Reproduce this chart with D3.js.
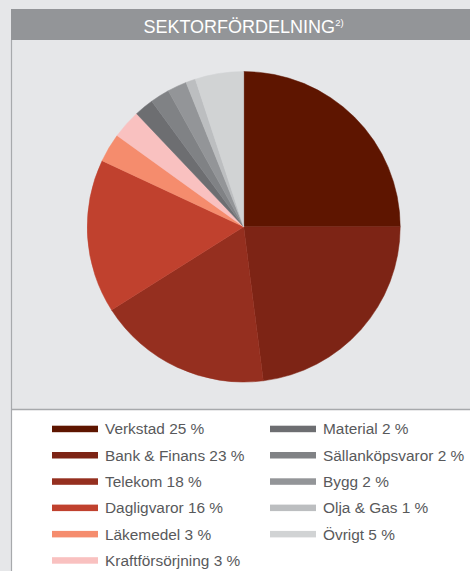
<!DOCTYPE html>
<html>
<head>
<meta charset="utf-8">
<script src="https://d3js.org/d3.v7.min.js"></script>
<style>
  body { margin: 0; background: #e6e7e9; }
  svg { display: block; font-family: "Liberation Sans", Arial, sans-serif; }
</style>
</head>
<body>
<svg width="470" height="571"></svg>
<script>
  var sectors = ["Verkstad", "Bank & Finans", "Telekom", "Dagligvaror", "Läkemedel",
                 "Kraftförsörjning", "Material", "Sällanköpsvaror", "Bygg", "Olja & Gas", "Övrigt"];
  var shares = [25, 23, 18, 16, 3, 3, 2, 2, 2, 1, 5];
  var palette = ["#5e1500", "#7d2415", "#952f1f", "#c0412e", "#f58c6d",
                 "#f9c1c0", "#6d6e71", "#808285", "#939598", "#bcbec0", "#d1d3d4"];

  var data = sectors.map(function(s, i) { return { name: s, value: shares[i] }; });

  var svg = d3.select("svg");
  var color = d3.scaleOrdinal().domain(sectors).range(palette);

  // background + panel
  svg.append("rect").attr("width", 470).attr("height", 571).attr("fill", "#e6e7e9");
  svg.append("rect").attr("x", 11).attr("y", 410).attr("width", 470).attr("height", 170).attr("fill", "#ffffff");
  svg.append("rect").attr("x", 11).attr("y", 9).attr("width", 470).attr("height", 31).attr("fill", "#939598");
  svg.append("line").attr("x1", 11.5).attr("x2", 11.5).attr("y1", 40).attr("y2", 571)
      .attr("stroke", "#a7a9ac").attr("stroke-width", 1.2);
  svg.append("line").attr("x1", 11).attr("x2", 470).attr("y1", 409.5).attr("y2", 409.5)
      .attr("stroke", "#a7a9ac").attr("stroke-width", 1.5);

  var title = svg.append("text")
      .attr("x", 243.5).attr("y", 32.7)
      .attr("text-anchor", "middle")
      .attr("fill", "#ffffff")
      .style("font-size", "18px");
  title.append("tspan").text("SEKTORFÖRDELNING");
  title.append("tspan").attr("dy", -6.5).style("font-size", "9.5px").text("2)");

  // pie
  var pie = d3.pie().sort(null).value(function(d) { return d.value; });
  var arc = d3.arc().innerRadius(0).outerRadius(156.5);

  svg.append("g")
      .attr("transform", "translate(243.7,226.8) scale(1,0.992)")
      .selectAll("path")
      .data(pie(data))
      .enter()
      .append("path")
      .attr("d", arc)
      .attr("fill", function(d) { return color(d.data.name); })
      .attr("stroke", function(d) { return color(d.data.name); })
      .attr("stroke-width", 0.5);

  // legend
  var rowY = d3.scaleLinear().domain([0, 5]).range([429, 560.5]);
  var colX = [52, 270];

  var item = svg.append("g")
      .selectAll("g")
      .data(data)
      .enter()
      .append("g")
      .attr("transform", function(d, i) {
        var col = i < 6 ? 0 : 1, row = i < 6 ? i : i - 6;
        return "translate(" + colX[col] + "," + rowY(row) + ")";
      });

  item.append("rect")
      .attr("x", 0).attr("y", -3.3)
      .attr("width", 46).attr("height", 6.5)
      .attr("fill", function(d) { return color(d.name); });

  item.append("text")
      .attr("x", 53).attr("y", 5.4)
      .attr("fill", "#58595b")
      .style("font-size", "15.4px")
      .text(function(d) { return d.name + " " + d.value + " %"; });
</script>
</body>
</html>
